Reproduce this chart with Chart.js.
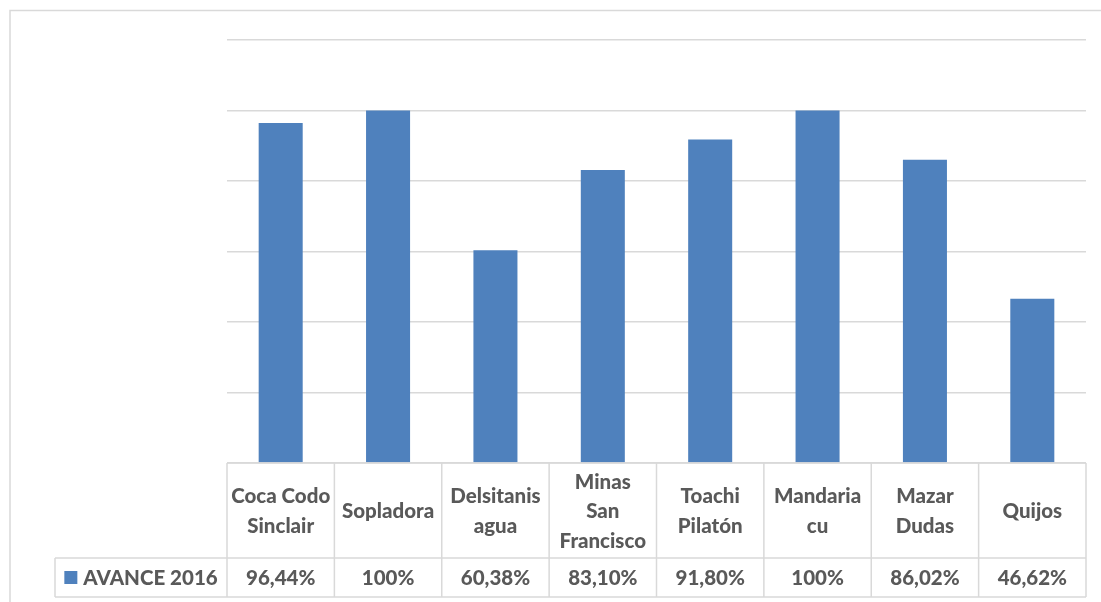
<!DOCTYPE html>
<html>
<head>
<meta charset="utf-8">
<script src="https://cdn.jsdelivr.net/npm/chart.js@4"></script>
<style>
  html, body { margin: 0; padding: 0; background: #fff; }
  #wrap { width: 1101px; height: 602px; position: relative; }
</style>
</head>
<body>
<div id="wrap"><canvas id="myChart"></canvas></div>
<script>
// categories (one array per cell, one string per line of text)
var categories = [
  ["Coca Codo", "Sinclair"],
  ["Sopladora"],
  ["Delsitanis", "agua"],
  ["Minas", "San", "Francisco"],
  ["Toachi", "Pilatón"],
  ["Mandaria", "cu"],
  ["Mazar", "Dudas"],
  ["Quijos"]
];
var seriesName = "AVANCE 2016";
var avance = [96.44, 100, 60.38, 83.10, 91.80, 100, 86.02, 46.62];
var yTicks = [0, 20, 40, 60, 80, 100, 120];

var barColor = "#4F81BD";
var lineColor = "#D9D9D9";
var textColor = "#595959";
var font = "900 20.5px Lato";

function fmt(v) {
  if (v % 1 === 0) return v + "%";
  return v.toFixed(2).replace(".", ",") + "%";
}

// draws the outer frame and the data table under the bars
var tablePlugin = {
  id: "dataTable",
  afterDraw: function (chart) {
    var ctx = chart.ctx;
    var x = chart.scales.x;
    var area = chart.chartArea;
    var top = area.bottom;
    var mid = top + 95;
    var bot = top + 134;
    var firstLeft = 55;
    var n = categories.length;
    var step = (area.right - area.left) / n;

    ctx.save();
    // outer frame (top and left only, the rest is cut off)
    ctx.strokeStyle = lineColor;
    ctx.lineWidth = 1.5;
    ctx.beginPath();
    ctx.moveTo(10, 602);
    ctx.lineTo(10, 10.5);
    ctx.lineTo(1101, 10.5);
    ctx.stroke();

    // table lines
    ctx.beginPath();
    ctx.moveTo(area.left, top); ctx.lineTo(area.right, top);
    ctx.moveTo(firstLeft, mid); ctx.lineTo(area.right, mid);
    ctx.moveTo(firstLeft, bot); ctx.lineTo(area.right, bot);
    ctx.moveTo(firstLeft, mid); ctx.lineTo(firstLeft, bot);
    for (var i = 0; i <= n; i++) {
      var lx = area.left + i * step;
      ctx.moveTo(lx, top); ctx.lineTo(lx, bot);
    }
    ctx.stroke();

    // header texts and values
    ctx.fillStyle = textColor;
    ctx.font = font;
    ctx.textAlign = "center";
    ctx.textBaseline = "middle";
    var lh = 29.5;
    var hc = (top + mid) / 2 + 1;
    var vc = (mid + bot) / 2 + 1;
    for (var j = 0; j < n; j++) {
      var cx = x.getPixelForValue(j);
      var lines = categories[j];
      var y0 = hc - (lines.length - 1) * lh / 2;
      for (var k = 0; k < lines.length; k++) {
        ctx.fillText(lines[k], cx, y0 + k * lh);
      }
      ctx.fillText(fmt(chart.data.datasets[0].data[j]), cx, vc);
    }

    // legend key in the first column
    var tw = ctx.measureText(seriesName).width;
    var sq = 13, gap = 6;
    var total = sq + gap + tw;
    var sx = (firstLeft + area.left) / 2 - total / 2;
    ctx.fillStyle = barColor;
    ctx.fillRect(sx, vc - sq / 2 - 1, sq, sq);
    ctx.fillStyle = textColor;
    ctx.textAlign = "left";
    ctx.fillText(seriesName, sx + sq + gap, vc);
    ctx.restore();
  }
};

var chartCanvas = document.getElementById("myChart");
var myChart = new Chart(chartCanvas, {
  type: "bar",
  data: {
    labels: categories.map(function (c) { return c.join(" "); }),
    datasets: [{
      label: seriesName,
      data: avance,
      backgroundColor: barColor,
      borderWidth: 0,
      categoryPercentage: 1,
      barPercentage: 0.41
    }]
  },
  options: {
    responsive: true,
    maintainAspectRatio: false,
    animation: false,
    layout: { padding: { left: 227, right: 15, top: 40, bottom: 139 } },
    plugins: { legend: { display: false }, tooltip: { enabled: false } },
    scales: {
      x: {
        ticks: { display: false },
        grid: { display: false, drawTicks: false },
        border: { display: false }
      },
      y: {
        min: 0,
        max: yTicks[yTicks.length - 1],
        afterBuildTicks: function (axis) {
          axis.ticks = yTicks.map(function (v) { return { value: v }; });
        },
        ticks: { display: false },
        grid: { color: lineColor, lineWidth: 1.5, drawTicks: false },
        border: { display: false }
      }
    }
  },
  plugins: [tablePlugin]
});
</script>
</body>
</html>
